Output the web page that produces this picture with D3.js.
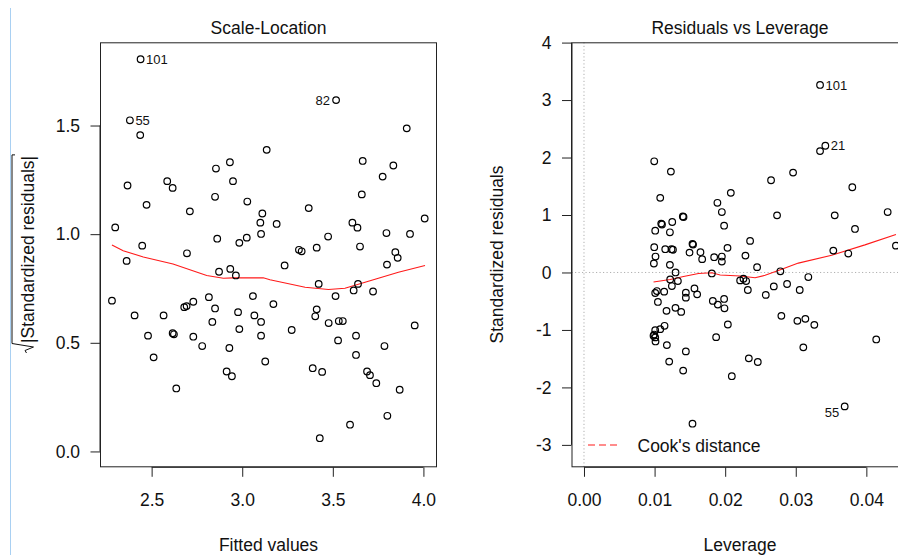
<!DOCTYPE html>
<html>
<head>
<meta charset="utf-8">
<script src="https://cdn.jsdelivr.net/npm/d3@7/dist/d3.min.js"></script>
<style>
  html, body { margin: 0; padding: 0; background: #fff; }
  svg { display: block; font-family: "Liberation Sans", Arial, sans-serif; }
</style>
</head>
<body>
<svg id="chart" width="898" height="555"></svg>
<script>
// ---- Scale-Location panel: fitted values vs sqrt(|standardized residuals|)
const slFitted = [2.439, 2.380, 3.518, 2.437, 3.908, 3.135, 3.665, 2.932, 2.855, 3.834,
  3.775, 2.586, 2.949, 2.367, 2.616, 2.850, 3.660, 3.028, 2.472, 3.367,
  2.711, 3.111, 3.100, 3.190, 3.608, 3.636, 2.299, 4.007, 3.796, 3.926,
  3.104, 3.474, 3.025, 2.862, 2.984, 2.448, 3.411, 3.650, 3.313, 3.328,
  2.695, 3.845, 3.858, 2.362, 3.799, 3.234, 2.872, 2.934, 2.965, 3.422,
  3.639, 3.615, 3.722, 3.515, 3.059, 2.816, 2.281, 3.172, 2.730, 2.680,
  2.693, 2.850, 3.411, 2.977, 2.406, 2.566, 3.067, 3.403, 2.835, 3.104,
  3.477, 3.533, 3.555, 3.952, 2.984, 3.273, 2.480, 2.616, 2.623, 2.730,
  3.104, 3.628, 3.529, 2.779, 3.785, 2.929, 2.511, 3.628, 3.127, 3.389,
  3.441, 2.914, 2.943, 3.689, 3.705, 3.740, 2.636, 3.869, 3.801, 3.595, 3.428];
const slRootResid = [1.805, 1.524, 1.617, 1.456, 1.487, 1.388, 1.337, 1.331, 1.302, 1.316,
  1.265, 1.244, 1.244, 1.224, 1.213, 1.172, 1.183, 1.150, 1.135, 1.120,
  1.105, 1.095, 1.053, 1.047, 1.053, 1.030, 1.031, 1.072, 1.005, 1.001,
  1.001, 0.989, 0.984, 0.979, 0.960, 0.947, 0.938, 0.943, 0.928, 0.921,
  0.912, 0.917, 0.891, 0.877, 0.860, 0.856, 0.827, 0.840, 0.810, 0.771,
  0.771, 0.741, 0.736, 0.715, 0.715, 0.710, 0.694, 0.678, 0.689, 0.664,
  0.669, 0.658, 0.654, 0.641, 0.626, 0.626, 0.626, 0.622, 0.596, 0.596,
  0.591, 0.600, 0.600, 0.580, 0.563, 0.559, 0.533, 0.544, 0.539, 0.528,
  0.533, 0.533, 0.511, 0.485, 0.485, 0.476, 0.433, 0.444, 0.414, 0.383,
  0.366, 0.368, 0.346, 0.368, 0.351, 0.314, 0.290, 0.284, 0.164, 0.123, 0.061];
// observation ids printed next to the most extreme points (index into the arrays)
const slIdIndex = [0, 1, 2];
const slIdText = ["101", "55", "82"];
// smoother through the panel
const slSmoothX = [2.281, 2.343, 2.454, 2.618, 2.804, 2.896, 2.951, 3.116, 3.153, 3.347, 3.476, 3.567, 3.678, 3.862, 4.009];
const slSmoothY = [0.950, 0.924, 0.895, 0.863, 0.810, 0.797, 0.799, 0.799, 0.790, 0.756, 0.745, 0.751, 0.779, 0.825, 0.856];
const slXTicks = [2.5, 3.0, 3.5, 4.0];
const slXTickLabels = ["2.5", "3.0", "3.5", "4.0"];
const slYTicks = [0, 0.5, 1.0, 1.5];
const slYTickLabels = ["0.0", "0.5", "1.0", "1.5"];

// ---- Residuals vs Leverage panel
const rvLeverage = [0.03344, 0.03419, 0.03693, 0.03344, 0.00995, 0.01231, 0.02962, 0.0265, 0.03801, 0.0208,
  0.0108, 0.0189, 0.01953, 0.04302, 0.02735, 0.03552, 0.0140, 0.0141, 0.0125, 0.01094,
  0.01105, 0.01985, 0.03839, 0.01009, 0.01217, 0.02353, 0.01537, 0.01545, 0.04419, 0.00995,
  0.01151, 0.0124, 0.0126, 0.02033, 0.03532, 0.01495, 0.0165, 0.03744, 0.01674, 0.01013,
  0.01844, 0.01953, 0.01953, 0.02287, 0.0099, 0.01217, 0.02452, 0.01297, 0.02782, 0.01811,
  0.01221, 0.0133, 0.02212, 0.02259, 0.02297, 0.03178, 0.01245, 0.01136, 0.01033, 0.01009,
  0.01047, 0.01443, 0.01443, 0.01565, 0.01603, 0.02321, 0.02575, 0.02689, 0.02877, 0.03056,
  0.01825, 0.01896, 0.01985, 0.0199, 0.01169, 0.01296, 0.01377, 0.02796, 0.03023, 0.03136,
  0.03263, 0.02038, 0.01141, 0.0108, 0.01009, 0.00985, 0.01009, 0.01013, 0.00995, 0.01872,
  0.01174, 0.03107, 0.0414, 0.01443, 0.01207, 0.01405, 0.02335, 0.02462, 0.02094, 0.01537];
const rvStdResid = [3.263, 2.205, -2.33, 2.112, 1.934, 1.755, 1.738, 1.605, 1.483, 1.385,
  1.298, 1.212, 1.051, 1.051, 0.994, 0.994, 0.975, 0.965, 0.878, 0.850,
  0.835, 0.814, 0.757, 0.727, 0.699, 0.549, 0.498, 0.485, 0.467, 0.44,
  0.405, 0.405, 0.395, 0.428, 0.381, 0.346, 0.353, 0.329, 0.232, 0.277,
  0.266, 0.277, 0.19, 0.294, 0.156, 0.133, 0.093, 0.0, 0.02, -0.017,
  -0.121, -0.149, -0.138, -0.109, -0.149, -0.08, -0.236, -0.334, -0.323, -0.357,
  -0.513, -0.351, -0.438, -0.277, -0.381, -0.305, -0.39, -0.242, -0.201, -0.305,
  -0.495, -0.559, -0.461, -0.623, -0.668, -0.616, -0.686, -0.755, -0.842, -0.807,
  -0.911, -0.905, -0.928, -0.986, -1.004, -1.101, -1.13, -1.2, -1.08, -1.125,
  -1.264, -1.303, -1.165, -1.373, -1.551, -1.707, -1.494, -1.558, -1.805, -2.631];
const rvIdIndex = [0, 1, 2];
const rvIdText = ["101", "21", "55"];
const rvSmoothX = [0.00985, 0.01221, 0.0141, 0.01622, 0.01811, 0.01929, 0.02212, 0.02424, 0.02566, 0.02782, 0.03037, 0.03509, 0.0398, 0.04419];
const rvSmoothY = [-0.166, -0.121, -0.07, -0.017, -0.005, -0.045, -0.062, -0.092, -0.05, 0.047, 0.163, 0.301, 0.48, 0.66];
const rvXTicks = [0, 0.01, 0.02, 0.03, 0.04];
const rvXTickLabels = ["0.00", "0.01", "0.02", "0.03", "0.04"];
const rvYTicks = [-3, -2, -1, 0, 1, 2, 3, 4];
const rvYTickLabels = ["-3", "-2", "-1", "0", "1", "2", "3", "4"];
const legendText = "Cook's distance";

const svg = d3.select("#chart");
const FONT = 17.5;
const ID_FONT = 13;

// thin window border on the far left
svg.append("line").attr("x1", 10.5).attr("x2", 10.5).attr("y1", 8).attr("y2", 555)
  .attr("stroke", "#a9d0f2").attr("stroke-width", 1);

function drawAxes(g, x, y, xt, xtl, yt, ytl) {
  const [x0, x1] = x.range();
  const [y0, y1] = y.range();
  const ax = g.append("g").attr("transform", `translate(0,${y0})`)
    .call(d3.axisBottom(x).tickValues(xt).tickFormat((d, i) => xtl[i]).tickSize(9.5).tickPadding(17));
  ax.select(".domain").attr("d", `M${x(xt[0])},0H${x(xt[xt.length - 1])}`);
  const ay = g.append("g").attr("transform", `translate(${x0},0)`)
    .call(d3.axisLeft(y).tickValues(yt).tickFormat((d, i) => ytl[i]).tickSize(9.5).tickPadding(10.5));
  ay.select(".domain").attr("d", `M0,${y(yt[0])}V${y(yt[yt.length - 1])}`);
  g.selectAll(".tick text").attr("font-size", FONT).attr("font-family", "Liberation Sans, Arial, sans-serif").attr("fill", "#111");
  g.selectAll(".tick line, .domain").attr("stroke", "#222");
  // plot frame
  g.append("rect").attr("x", x0 + 0.5).attr("y", y1 + 0.5)
    .attr("width", x1 - x0 - 1).attr("height", y0 - y1 - 1)
    .attr("fill", "none").attr("stroke", "#222").attr("stroke-width", 1);
}

function drawPoints(g, x, y, xs, ys) {
  g.selectAll("circle.pt").data(d3.range(xs.length)).join("circle")
    .attr("class", "pt")
    .attr("cx", i => x(xs[i])).attr("cy", i => y(ys[i])).attr("r", 3.3)
    .attr("fill", "none").attr("stroke", "#000").attr("stroke-width", 1.2);
}

function drawSmooth(g, x, y, xs, ys) {
  const line = d3.line().x(i => x(xs[i])).y(i => y(ys[i]));
  g.append("path").datum(d3.range(xs.length)).attr("d", line)
    .attr("fill", "none").attr("stroke", "#ff1a1a").attr("stroke-width", 1.1);
}

// ----- left panel
const xSL = d3.scaleLinear().domain([2.215, 4.075]).range([100, 437]);
const ySL = d3.scaleLinear().domain([-0.073, 1.883]).range([467.3, 42.3]);
const gSL = svg.append("g");
drawAxes(gSL, xSL, ySL, slXTicks, slXTickLabels, slYTicks, slYTickLabels);
drawSmooth(gSL, xSL, ySL, slSmoothX, slSmoothY);
drawPoints(gSL, xSL, ySL, slFitted, slRootResid);
slIdIndex.forEach((idx, k) => {
  const left = slIdText[k] === "82";
  gSL.append("text")
    .attr("x", xSL(slFitted[idx]) + (left ? -6 : 5.5))
    .attr("y", ySL(slRootResid[idx]) + 4.6)
    .attr("text-anchor", left ? "end" : "start")
    .attr("font-size", ID_FONT).attr("fill", "#111").text(slIdText[k]);
});
svg.append("text").attr("x", 268.5).attr("y", 34).attr("text-anchor", "middle")
  .attr("font-size", FONT).attr("fill", "#111").text("Scale-Location");
svg.append("text").attr("x", 268.5).attr("y", 551).attr("text-anchor", "middle")
  .attr("font-size", FONT).attr("fill", "#111").text("Fitted values");
// y label: square root sign over |Standardized residuals|
const yLab = svg.append("g").attr("transform", "translate(33.5,353) rotate(-90)");
const yLabText = yLab.append("text").attr("x", 10).attr("y", 0)
  .attr("font-size", FONT).attr("fill", "#111").text("|Standardized residuals|");
const labLen = yLabText.node().getComputedTextLength();
yLab.append("path")
  .attr("d", `M0,-7 L2.5,-8.5 L6,0 L9.5,-21.5 H${10 + labLen + 1} v3`)
  .attr("fill", "none").attr("stroke", "#111").attr("stroke-width", 1);

// ----- right panel
const xRV = d3.scaleLinear().domain([-0.00177, 0.0459]).range([571.5, 908]);
const yRV = d3.scaleLinear().domain([-3.39, 4.005]).range([467.3, 42.3]);
const gRV = svg.append("g");
// reference lines at zero
gRV.append("line").attr("x1", xRV(0)).attr("x2", xRV(0)).attr("y1", 42.3).attr("y2", 467.3)
  .attr("stroke", "#b0b0b0").attr("stroke-dasharray", "1.2,2.3");
gRV.append("line").attr("x1", 571.5).attr("x2", 908).attr("y1", yRV(0)).attr("y2", yRV(0))
  .attr("stroke", "#b0b0b0").attr("stroke-dasharray", "1.2,2.3");
drawAxes(gRV, xRV, yRV, rvXTicks, rvXTickLabels, rvYTicks, rvYTickLabels);
drawSmooth(gRV, xRV, yRV, rvSmoothX, rvSmoothY);
drawPoints(gRV, xRV, yRV, rvLeverage, rvStdResid);
rvIdIndex.forEach((idx, k) => {
  const left = rvIdText[k] === "55";
  gRV.append("text")
    .attr("x", xRV(rvLeverage[idx]) + (left ? -5.5 : 5.5))
    .attr("y", yRV(rvStdResid[idx]) + (left ? 10.5 : 4.6))
    .attr("text-anchor", left ? "end" : "start")
    .attr("font-size", ID_FONT).attr("fill", "#111").text(rvIdText[k]);
});
// legend
gRV.append("line").attr("x1", 588).attr("x2", 621).attr("y1", 445).attr("y2", 445)
  .attr("stroke", "#ff1a1a").attr("stroke-width", 1.1).attr("stroke-dasharray", "7,4");
gRV.append("text").attr("x", 637.5).attr("y", 451.5).attr("font-size", FONT)
  .attr("fill", "#111").text(legendText);
svg.append("text").attr("x", 740).attr("y", 34).attr("text-anchor", "middle")
  .attr("font-size", FONT).attr("fill", "#111").text("Residuals vs Leverage");
svg.append("text").attr("x", 740).attr("y", 551).attr("text-anchor", "middle")
  .attr("font-size", FONT).attr("fill", "#111").text("Leverage");
svg.append("text").attr("transform", "translate(503,254.5) rotate(-90)")
  .attr("text-anchor", "middle").attr("font-size", FONT).attr("fill", "#111")
  .text("Standardized residuals");
</script>
</body>
</html>
